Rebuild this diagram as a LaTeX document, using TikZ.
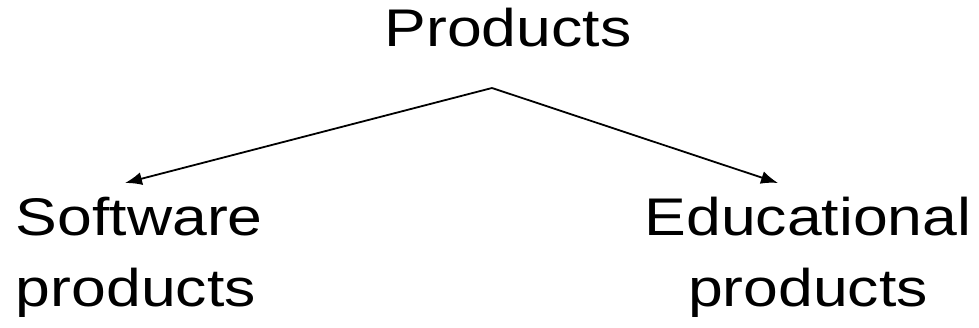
\documentclass[tikz,border=0pt]{standalone}
\usepackage{fontspec}
\setmainfont{Liberation Sans}
\usetikzlibrary{arrows.meta}
\newcommand{\wide}[1]{\scalebox{1.18}[1]{#1}}

\begin{document}
\begin{tikzpicture}[x=1pt,y=1pt,line width=1.8pt,
	label/.style={font=\fontsize{53}{71}\selectfont,inner sep=0pt},
	link/.style={-{Latex[length=17pt,width=13pt]}}]
	\useasboundingbox (0,0) rectangle (979,328);

	\node[label,anchor=base] (products) at (508,281) {\wide{Products}};
	\node[label,align=left,anchor=base west] (software) at (15,21)
		{\wide{Software}\\\wide{products}};
	\node[label,align=center,anchor=base] (educational) at (808,21)
		{\wide{Educational}\\\wide{products}};

	\coordinate (apex) at (492,240);
	\coordinate (software tip) at (125,145);
	\coordinate (educational tip) at (778,145);
	\draw[link] (apex) -- (software tip);
	\draw[link] (apex) -- (educational tip);
\end{tikzpicture}
\end{document}
